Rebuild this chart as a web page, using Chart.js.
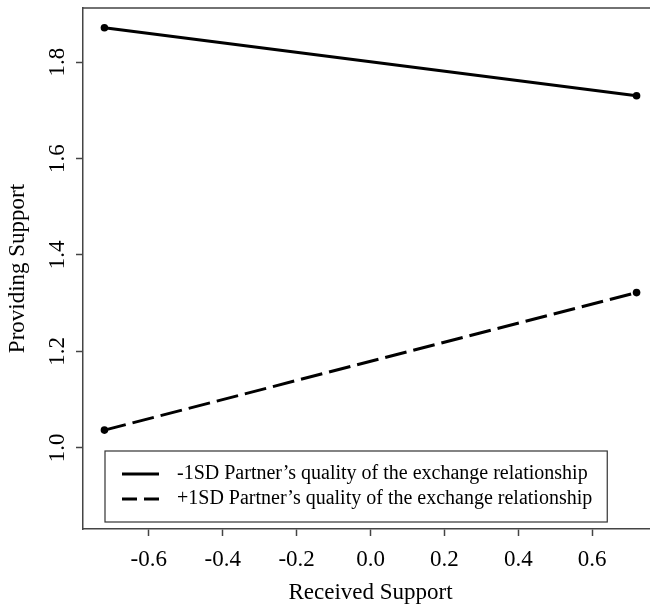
<!DOCTYPE html>
<html>
<head>
<meta charset="utf-8">
<script src="https://cdn.jsdelivr.net/npm/chart.js@4/dist/chart.umd.min.js"></script>
<style>
  html, body { margin: 0; padding: 0; background: #fff; overflow: hidden; }
  #wrap { width: 662px; height: 607px; }
</style>
</head>
<body>
<div id="wrap"><canvas id="chart"></canvas></div>
<script>
const receivedSupport = [-0.72, 0.72];
const lowQuality = [1.871, 1.730];   // -1SD
const highQuality = [1.037, 1.322];  // +1SD
const seriesLabels = [
  '-1SD Partner\u2019s quality of the exchange relationship',
  '+1SD Partner\u2019s quality of the exchange relationship',
];
const xTicks = [-0.6, -0.4, -0.2, 0.0, 0.2, 0.4, 0.6];
const yTicks = [1.0, 1.2, 1.4, 1.6, 1.8];
const xRange = [-0.778, 0.778];
const yRange = [0.832, 1.912];

const serif = "'Liberation Serif', 'DejaVu Serif', serif";
const axisColor = '#444';

function toPoints(ys) {
  return receivedSupport.map((x, i) => ({ x, y: ys[i] }));
}

function fmt(v) {
  return Math.abs(v) < 1e-9 ? '0.0' : v.toFixed(1);
}

// legend sample: line drawn in the left part of a wider box
function legendLine(dash) {
  const c = document.createElement('canvas');
  c.width = 45;
  c.height = 6;
  const g = c.getContext('2d');
  g.strokeStyle = '#000';
  g.lineWidth = 3;
  g.setLineDash(dash);
  g.beginPath();
  g.moveTo(0, 3);
  g.lineTo(37, 3);
  g.stroke();
  return c;
}

const frame = {
  id: 'frame',
  afterLayout(chart) {
    const lg = chart.legend;
    lg.left += 34;
    lg.right += 34;
    lg.bottom -= 7;
  },
  afterDraw(chart) {
    const { ctx, chartArea: a } = chart;
    ctx.save();
    ctx.strokeStyle = axisColor;
    ctx.lineWidth = 1.5;
    ctx.beginPath();
    ctx.moveTo(a.left, a.top);
    ctx.lineTo(a.right, a.top);
    ctx.lineTo(a.right, a.bottom);
    ctx.stroke();

    const boxes = chart.legend.legendHitBoxes;
    if (boxes && boxes.length) {
      const l = Math.min(...boxes.map(b => b.left)) - 17;
      const r = Math.max(...boxes.map(b => b.left + b.width)) + 15;
      const t = boxes[0].top - 13;
      const last = boxes[boxes.length - 1];
      const b = last.top + last.height + 13;
      ctx.lineWidth = 1.2;
      ctx.strokeStyle = '#333';
      ctx.strokeRect(l, t, r - l, b - t);
    }
    ctx.restore();
  },
};

new Chart(document.getElementById('chart'), {
  type: 'line',
  data: {
    datasets: [
      {
        label: seriesLabels[0],
        data: toPoints(lowQuality),
        borderColor: '#000',
        backgroundColor: '#000',
        borderWidth: 3,
        pointRadius: 3.8,
        pointBorderWidth: 0,
        pointBackgroundColor: '#000',
        legendDash: [],
      },
      {
        label: seriesLabels[1],
        data: toPoints(highQuality),
        borderColor: '#000',
        backgroundColor: '#000',
        borderWidth: 3,
        borderDash: [22, 7],
        pointRadius: 3.8,
        pointBorderWidth: 0,
        pointBackgroundColor: '#000',
        legendDash: [15, 7],
      },
    ],
  },
  options: {
    animation: false,
    responsive: true,
    maintainAspectRatio: false,
    devicePixelRatio: 1,
    layout: { padding: { top: 8, right: 2, bottom: 0, left: 0 } },
    plugins: {
      tooltip: { enabled: false },
      legend: {
        position: 'chartArea',
        align: 'end',
        labels: {
          usePointStyle: true,
          pointStyleWidth: 45,
          padding: 5,
          color: '#000',
          font: { family: serif, size: 20 },
          generateLabels(chart) {
            return chart.data.datasets.map((ds, i) => ({
              text: ds.label,
              pointStyle: legendLine(ds.legendDash),
              datasetIndex: i,
              lineWidth: 0,
              strokeStyle: '#000',
              fillStyle: '#000',
              fontColor: '#000',
              hidden: false,
            }));
          },
        },
      },
    },
    scales: {
      x: {
        type: 'linear',
        min: xRange[0],
        max: xRange[1],
        afterBuildTicks(scale) {
          scale.ticks = xTicks.map(v => ({ value: v }));
        },
        afterFit(scale) {
          scale.height = 78;
          scale.paddingLeft = 0;
          scale.paddingRight = 0;
        },
        grid: {
          drawOnChartArea: false,
          drawTicks: true,
          tickLength: 7,
          tickColor: axisColor,
          tickWidth: 1.5,
        },
        border: { color: axisColor, width: 1.5 },
        ticks: {
          padding: 10,
          color: '#000',
          font: { family: serif, size: 23 },
          maxRotation: 0,
          callback: v => fmt(v),
        },
        title: {
          display: true,
          text: 'Received Support',
          color: '#000',
          font: { family: serif, size: 23 },
          padding: { top: 0, bottom: 0 },
        },
      },
      y: {
        type: 'linear',
        min: yRange[0],
        max: yRange[1],
        afterBuildTicks(scale) {
          scale.ticks = yTicks.map(v => ({ value: v }));
        },
        afterFit(scale) {
          scale.width = 83;
          scale.paddingTop = 0;
          scale.paddingBottom = 0;
        },
        grid: {
          drawOnChartArea: false,
          drawTicks: true,
          tickLength: 7,
          tickColor: axisColor,
          tickWidth: 1.5,
        },
        border: { color: axisColor, width: 1.5 },
        ticks: {
          minRotation: 90,
          maxRotation: 90,
          crossAlign: 'center',
          padding: 4,
          color: '#000',
          font: { family: serif, size: 23 },
          callback: v => fmt(v),
        },
        title: {
          display: true,
          text: 'Providing Support',
          color: '#000',
          font: { family: serif, size: 23 },
          padding: { top: 4, bottom: 0 },
        },
      },
    },
  },
  plugins: [frame],
});
</script>
</body>
</html>
